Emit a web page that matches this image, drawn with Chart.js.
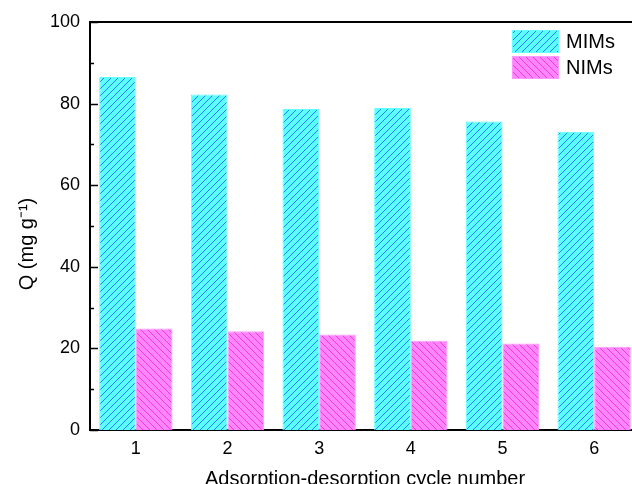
<!DOCTYPE html>
<html>
<head>
<meta charset="utf-8">
<script src="https://cdn.jsdelivr.net/npm/chart.js@4/dist/chart.umd.min.js"></script>
<style>
  html, body { margin: 0; padding: 0; background: #ffffff; overflow: hidden; }
  #wrap { width: 650px; height: 484px; }
</style>
</head>
<body>
<div id="wrap"><canvas id="c" width="650" height="484"></canvas></div>
<script>
// Adsorption capacity over repeated adsorption-desorption cycles
const cycles = ['1', '2', '3', '4', '5', '6'];
const mimsQ = [86.5, 82.2, 78.7, 78.9, 75.6, 73.1];
const nimsQ = [24.9, 24.2, 23.4, 21.9, 21.2, 20.4];
const seriesNames = ['MIMs', 'NIMs'];
const yMajorTicks = [0, 20, 40, 60, 80, 100];
const yMinorTicks = [10, 30, 50, 70, 90];
const yTitle = 'Q (mg g\u207B\u00B9)';
const FONT = 'Arial, "Liberation Sans", sans-serif';

// Hatched fills: "/" for MIMs, "\" for NIMs
function hatch(fill, line, forward) {
  const s = 7;
  const t = document.createElement('canvas');
  t.width = s; t.height = s;
  const g = t.getContext('2d');
  g.fillStyle = fill;
  g.fillRect(0, 0, s, s);
  g.strokeStyle = line;
  g.lineWidth = 1;
  g.beginPath();
  if (forward) {
    g.moveTo(0, s); g.lineTo(s, 0);
    g.moveTo(-s, s); g.lineTo(0, 0);
    g.moveTo(s, 2 * s); g.lineTo(2 * s, s);
  } else {
    g.moveTo(0, 0); g.lineTo(s, s);
    g.moveTo(-s, 0); g.lineTo(0, s);
    g.moveTo(s, 0); g.lineTo(2 * s, s);
  }
  g.stroke();
  return g.createPattern(t, 'repeat');
}

const ctx = document.getElementById('c').getContext('2d');
const mimsFill = hatch('#5affff', '#2f7cff', true);
const nimsFill = hatch('#ff85ff', '#f53cc8', false);

const frame = {
  id: 'frame',
  beforeDraw(chart) {
    const g = chart.ctx;
    g.save();
    g.fillStyle = '#ffffff';
    g.fillRect(0, 0, chart.width, chart.height);
    g.restore();
  },
  afterDraw(chart) {
    const g = chart.ctx;
    const a = chart.chartArea;
    const y = chart.scales.y;
    g.save();
    g.strokeStyle = '#000000';
    g.lineWidth = 2;
    // top border
    g.beginPath();
    g.moveTo(a.left - 1, a.top);
    g.lineTo(a.right, a.top);
    g.stroke();
    // inward ticks on the value axis
    g.lineWidth = 1.5;
    g.beginPath();
    yMajorTicks.forEach(v => {
      const p = Math.round(y.getPixelForValue(v)) + 0.5;
      g.moveTo(a.left, p); g.lineTo(a.left + 8, p);
    });
    yMinorTicks.forEach(v => {
      const p = Math.round(y.getPixelForValue(v)) + 0.5;
      g.moveTo(a.left, p); g.lineTo(a.left + 4, p);
    });
    g.stroke();

    // value axis title
    g.save();
    g.translate(27, 244);
    g.rotate(-Math.PI / 2);
    g.font = '20px ' + FONT;
    g.fillStyle = '#000000';
    g.textAlign = 'center';
    g.textBaseline = 'middle';
    g.fillText(yTitle, 0, 0);
    g.restore();

    // legend in the upper right corner
    const fills = [mimsFill, nimsFill];
    const edges = ['#66ffff', '#ff99ff'];
    g.font = '20px ' + FONT;
    g.textBaseline = 'middle';
    g.textAlign = 'left';
    seriesNames.forEach((name, i) => {
      const bx = 512, by = 30 + i * 26, bw = 47, bh = 23;
      g.fillStyle = fills[i];
      g.fillRect(bx, by, bw, bh);
      g.strokeStyle = edges[i];
      g.lineWidth = 1;
      g.strokeRect(bx + 0.5, by + 0.5, bw - 1, bh - 1);
      g.fillStyle = '#000000';
      g.fillText(name, 566, by + bh / 2 + 1);
    });
    g.restore();
  }
};

new Chart(ctx, {
  type: 'bar',
  data: {
    labels: cycles,
    datasets: [
      { label: seriesNames[0], data: mimsQ, backgroundColor: mimsFill,
        borderColor: '#66ffff', borderWidth: 1 },
      { label: seriesNames[1], data: nimsQ, backgroundColor: nimsFill,
        borderColor: '#ff99ff', borderWidth: 1 }
    ]
  },
  options: {
    responsive: false,
    animation: false,
    devicePixelRatio: 1,
    layout: { padding: { top: 22, right: 10, left: 0, bottom: 0 } },
    datasets: { bar: { categoryPercentage: 0.8, barPercentage: 1.0 } },
    plugins: { legend: { display: false }, tooltip: { enabled: false } },
    scales: {
      x: {
        offset: true,
        grid: { display: false, drawTicks: false },
        border: { display: true, color: '#000000', width: 2 },
        ticks: { color: '#000000', padding: 8, font: { size: 18, family: FONT } },
        title: { display: true, text: 'Adsorption-desorption cycle number', color: '#000000',
                 font: { size: 20, family: FONT },
                 padding: { top: 0, bottom: -7 } },
        afterFit(scale) { scale.height = 54; }
      },
      y: {
        min: 0, max: 100,
        afterBuildTicks(scale) { scale.ticks = yMajorTicks.map(v => ({ value: v })); },
        grid: { display: false, drawTicks: false },
        border: { display: true, color: '#000000', width: 2 },
        ticks: { color: '#000000', padding: 10, font: { size: 18, family: FONT } },
        title: { display: false },
        afterFit(scale) { scale.width = 90; }
      }
    }
  },
  plugins: [frame]
});
</script>
</body>
</html>
